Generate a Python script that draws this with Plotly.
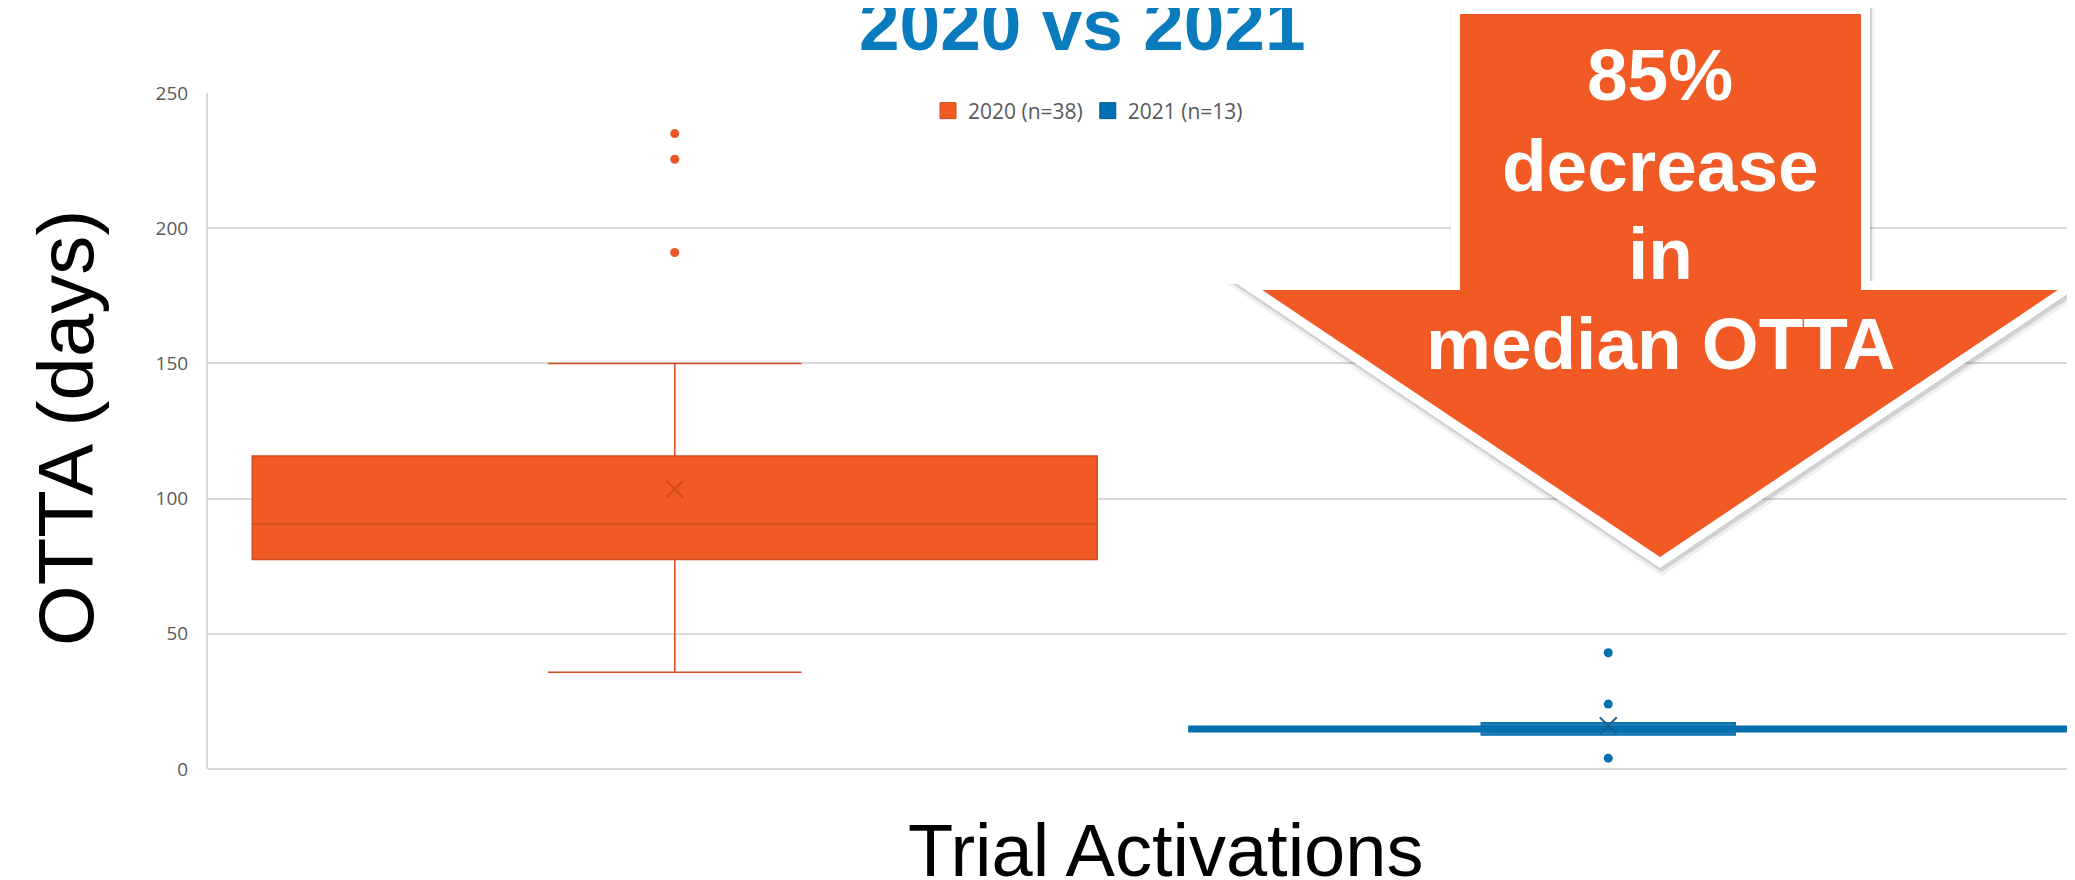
import plotly.graph_objects as go

# ---------------- data ----------------
groups = ["2020 (n=38)", "2021 (n=13)"]
positions = [0, 1]
q1 = [77.5, 12.6]
median = [90.5, 14.5]
q3 = [115.8, 17.1]
lower_fence = [35.8, 12.6]
upper_fence = [150.0, 17.1]
means = [103.5, 16.0]
outliers_2020 = [235, 225.5, 191]
outliers_2021 = [43, 24, 4]
box_widths = [0.905, 0.272]
median_line_2021_x = [0.55, 1.55]
median_line_2021_y = [14.8, 14.8]
y_ticks = [0, 50, 100, 150, 200, 250]

ORANGE = "#F15A24"
ORANGE_DARK = "#CF4A1C"
BLUE = "#0070B0"
BLUE_BOX = "#2E7CB4"
BLUE_DARK = "#1B5F90"
TITLE_BLUE = "#0A7CBE"
GRAY_TXT = "#595959"
GRID = "#D9D9D9"

# page body has an 8px margin: size figure so it ends at the window edge
OFF = 8
W, H = 2075 - OFF, 880 - OFF
# plot area in window pixels
PL, PT, PR, PB = 208, 93, 2075, 769
L, T = PL - OFF, PT - OFF
R = 0
B = H - (PB - OFF)
PW, PH = W - L - R, H - T - B


def px(x, y):
    """window pixel -> paper coords"""
    return (x - PL) / PW, (PB - y) / PH


fig = go.Figure()

fills = [ORANGE, BLUE_BOX]
lines = [ORANGE_DARK, BLUE]
for i in range(2):
    fig.add_trace(go.Box(
        x=[positions[i]], q1=[q1[i]], median=[median[i]], q3=[q3[i]],
        lowerfence=[lower_fence[i]], upperfence=[upper_fence[i]],
        width=box_widths[i], whiskerwidth=0.3 if i == 0 else 1.0,
        fillcolor=fills[i], line=dict(color=lines[i], width=1.5),
        boxpoints=False, showlegend=False, hoverinfo="skip",
    ))

# thick 2021 line
fig.add_trace(go.Scatter(x=median_line_2021_x, y=median_line_2021_y, mode="lines",
                         line=dict(color=BLUE, width=7), showlegend=False, hoverinfo="skip"))

# outliers
fig.add_trace(go.Scatter(x=[positions[0]] * len(outliers_2020), y=outliers_2020, mode="markers",
                         marker=dict(color="#E8562A", size=9), showlegend=False, cliponaxis=False))
fig.add_trace(go.Scatter(x=[positions[1]] * len(outliers_2021), y=outliers_2021, mode="markers",
                         marker=dict(color=BLUE, size=9), showlegend=False, cliponaxis=False))
# means
fig.add_trace(go.Scatter(x=positions, y=means, mode="markers",
                         marker=dict(symbol="x-thin", size=17,
                                     line=dict(color=[ORANGE_DARK, BLUE_DARK], width=1.8)),
                         showlegend=False))

# legend entries
for name, c, lc in zip(groups, [ORANGE, BLUE], [ORANGE_DARK, "#005A90"]):
    fig.add_trace(go.Scatter(x=[None], y=[None], mode="markers", name=name,
                             marker=dict(symbol="square", size=16, color=c, line=dict(color=lc, width=1))))

# arrow decoration (window-pixel outline, middle of the white border)
ARROW_PX = [(1455.5, 9.5), (1865.5, 9.5), (1865.5, 285.5), (2072.5, 285.5), (1660, 562.5),
            (1247.5, 285.5), (1455.5, 285.5)]


def path_of(pts, dx=0.0, dy=0.0):
    s = ""
    for k, (x, y) in enumerate(pts):
        a, b = px(x + dx, y + dy)
        s += ("M" if k == 0 else "L") + f"{a:.5f},{b:.5f} "
    return s + "Z"


shapes = [
    dict(type="path", xref="paper", yref="paper", path=path_of(ARROW_PX, 2, 5),
         fillcolor="rgba(0,0,0,0.06)", line=dict(color="rgba(0,0,0,0.06)", width=14), layer="above"),
    dict(type="path", xref="paper", yref="paper", path=path_of(ARROW_PX, 1.5, 3.5),
         fillcolor="rgba(0,0,0,0.12)", line=dict(color="rgba(0,0,0,0.12)", width=10), layer="above"),
    dict(type="path", xref="paper", yref="paper", path=path_of(ARROW_PX),
         fillcolor=ORANGE, line=dict(color="white", width=9), layer="above"),
]

annotations = []
# title
tx, ty = px(1082, 25)
annotations.append(dict(text="<b>2020 vs 2021</b>", x=tx, y=ty, xref="paper", yref="paper",
                        xanchor="center", yanchor="middle", showarrow=False,
                        font=dict(family="Liberation Sans, Arial", size=73, color=TITLE_BLUE)))
# arrow text
for line_txt, cy in zip(["85%", "decrease", "in", "median OTTA"], [75, 165, 253, 343]):
    ax_, ay_ = px(1660, cy)
    annotations.append(dict(text=f"<b>{line_txt}</b>", x=ax_, y=ay_, xref="paper", yref="paper",
                            xanchor="center", yanchor="middle", showarrow=False,
                            font=dict(family="Liberation Sans, Arial", size=73, color="white")))
# axis titles
yx, yy = px(66, 428)
annotations.append(dict(text="OTTA (days)", x=yx, y=yy, xref="paper", yref="paper", textangle=-90,
                        xanchor="center", yanchor="middle", showarrow=False,
                        font=dict(family="Liberation Sans, Arial", size=78, color="black")))
xx, xy = px(1165, 850)
annotations.append(dict(text="Trial Activations", x=xx, y=xy, xref="paper", yref="paper",
                        xanchor="center", yanchor="middle", showarrow=False,
                        font=dict(family="Liberation Sans, Arial", size=74, color="black")))

lx, ly = px(1088, 111)
fig.update_layout(
    width=W, height=H, margin=dict(l=L, r=R, t=T, b=B),
    paper_bgcolor="white", plot_bgcolor="white",
    showlegend=True,
    legend=dict(orientation="h", x=lx, y=ly, xanchor="center", yanchor="middle",
                font=dict(family="Open Sans", size=21, color=GRAY_TXT), itemwidth=30,
                bgcolor="rgba(0,0,0,0)"),
    xaxis=dict(range=[-0.5, 1.5], showticklabels=False, showgrid=False, zeroline=False,
               showline=False, fixedrange=True),
    yaxis=dict(range=[0, 250], tickvals=y_ticks, showgrid=True, gridcolor=GRID, gridwidth=2,
               zeroline=True, zerolinecolor=GRID, zerolinewidth=2,
               showline=True, linecolor=GRID, linewidth=2,
               tickfont=dict(family="Open Sans", size=19, color=GRAY_TXT), ticklabelstandoff=14),
    shapes=shapes, annotations=annotations,
)

fig.write_html("out.html")
